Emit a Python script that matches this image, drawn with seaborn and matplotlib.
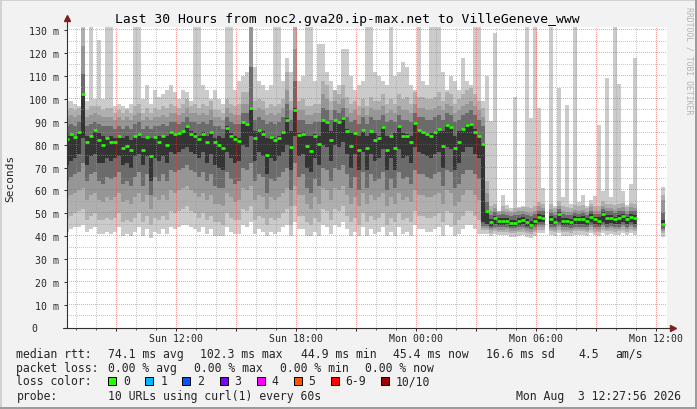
import numpy as np
import pandas as pd
import matplotlib
matplotlib.use("Agg")
import matplotlib.pyplot as plt
from matplotlib.patches import Rectangle
from matplotlib.lines import Line2D
from matplotlib.transforms import blended_transform_factory
import seaborn as sns

nan = np.nan

# time axis in hours since Sun 00:00, 12-minute buckets
axis_start = 6 + 32 / 60
axis_hours = 30
bucket_start = 6 + 26 / 60
bucket_hours = 0.2

# median rtt per bucket (ms)
median_rtt = [
    82.6, 84.7, 83.2, 85.7, 102.3, 81.4, 83.6, 86.3, 82.2, 79.7,
    82.8, 81.0, 81.0, 83.6, 78.4, 79.3, 77.5, 83.6, 84.7, 77.5,
    83.2, 74.9, 83.2, 81.0, 83.6, 79.7, 85.4, 84.7, 85.0, 85.8,
    88.0, 84.7, 83.6, 82.4, 84.9, 81.0, 85.7, 81.0, 80.0, 78.7,
    87.5, 83.6, 82.6, 81.7, 89.8, 89.2, 96.2, 83.1, 86.6, 84.8,
    75.7, 83.5, 82.2, 83.1, 85.7, 91.0, 79.1, 95.4, 84.4, 84.8,
    79.6, 77.1, 83.9, 80.4, 90.7, 90.1, 81.9, 90.7, 89.8, 91.8,
    85.8, 79.3, 85.0, 77.8, 86.3, 78.4, 85.8, 81.9, 83.1, 87.6,
    77.5, 83.6, 78.4, 88.0, 83.6, 83.9, 81.0, 89.4, 86.3, 85.4,
    84.5, 83.6, 85.4, 86.7, 79.3, 88.5, 87.6, 78.4, 81.0, 86.7,
    88.5, 88.9, 85.4, 83.6, 80.1,
    50.8, 46.0, 48.1, 46.6, 46.8, 46.8, 45.9, 45.9, 46.7, 47.1, 46.2, 44.9, 46.8, 48.6, 48.1,
    nan,
    47.6, 46.4, 49.8, 46.8, 46.8, 46.4, 47.7, 47.4, 47.7, 46.8, 48.6, 47.3, 46.8, 49.5, 48.1,
    48.1, 47.3, 48.1, 48.9, 47.3, 48.6, 48.1,
    nan, nan, nan, nan, nan, nan,
    45.4,
]

# smoke: innermost (core) band
core_lo = [
    71, 73, 74, 76, 83, 71, 75, 76, 72, 72,
    74, 73, 74, 75, 71, 72, 70, 75, 76, 71,
    75, 64, 74, 73, 75, 72, 77, 76, 77, 78,
    79, 77, 76, 74, 77, 72, 76, 71, 70, 69,
    77, 74, 72, 73, 80, 79, 84, 73, 77, 75,
    67, 74, 73, 75, 77, 80, 69, 84, 75, 76,
    70, 68, 74, 71, 80, 79, 73, 80, 79, 81,
    76, 70, 76, 69, 77, 69, 76, 73, 74, 78,
    69, 74, 69, 78, 74, 75, 72, 79, 77, 76,
    75, 74, 76, 77, 70, 79, 78, 69, 72, 77,
    79, 79, 76, 74, 46,
    45.5, 44.6, 45.4, 45.0, 45.0, 45.2, 44.6, 44.6, 45.0, 45.2, 44.6, 44.0, 45.0, 46.0, 46.0,
    nan,
    45.4, 45.0, 46.0, 45.0, 45.0, 44.8, 45.4, 45.4, 45.4, 45.0, 46.0, 45.2, 45.0, 46.0, 45.4,
    45.6, 45.2, 45.4, 46.0, 45.2, 46.0, 45.4,
    nan, nan, nan, nan, nan, nan,
    44.4,
]
core_hi = [
    84, 85, 84, 86, 102.8, 84, 84, 86.5, 85, 84,
    83, 84, 83, 84, 83, 84, 82, 84, 85, 83,
    83.5, 83, 83.5, 84, 84, 84, 86, 85, 85.5, 86,
    88.5, 86, 85, 84, 85.5, 84, 86, 83, 84, 83,
    88, 85, 84, 83, 90, 89.5, 96.5, 86, 87, 86,
    83, 84, 83, 84, 86, 91.5, 86, 96, 85, 85.5,
    84, 84, 84.5, 84, 91, 90.5, 86, 91, 90, 92.3,
    87, 85, 85.5, 84, 86.5, 84, 86, 85, 84, 88,
    84, 84, 85, 88.5, 85, 84.5, 84, 90, 86.5, 86,
    85, 85, 86, 87, 86, 89, 88, 84, 86, 87,
    89, 89.4, 87, 84, 80.6,
    51.6, 47.4, 49.0, 47.8, 48.0, 47.8, 47.0, 47.2, 48.0, 48.4, 47.4, 46.8, 48.0, 49.8, 49.4,
    nan,
    48.8, 47.8, 50.6, 48.0, 48.0, 47.6, 48.8, 48.4, 48.8, 47.8, 49.8, 48.4, 48.2, 50.4, 49.4,
    49.4, 48.6, 49.4, 49.8, 48.6, 49.8, 49.4,
    nan, nan, nan, nan, nan, nan,
    47.0,
]
# second band
band4_lo = [
    64, 66, 67, 68, 72, 64, 67, 68, 64, 63,
    66, 65, 66, 68, 63, 64, 62, 66, 68, 62,
    67, 58, 66, 64, 67, 64, 69, 68, 69, 70,
    71, 69, 68, 66, 68, 64, 67, 62, 61, 61,
    68, 65, 63, 64, 70, 69, 72, 64, 67, 66,
    59, 65, 64, 66, 68, 70, 60, 72, 66, 67,
    61, 59, 65, 62, 70, 69, 64, 70, 69, 71,
    67, 61, 66, 60, 68, 61, 67, 64, 65, 68,
    60, 65, 61, 68, 65, 66, 63, 69, 67, 67,
    66, 65, 67, 68, 62, 69, 68, 61, 63, 67,
    69, 69, 67, 65, 44.5,
    44.5, 43.6, 44.2, 43.8, 43.8, 44.0, 43.4, 43.4, 43.8, 44.0, 43.4, 43.0, 43.8, 44.8, 44.8,
    nan,
    44.2, 43.8, 44.8, 43.8, 43.8, 43.6, 44.2, 44.2, 44.2, 43.8, 44.8, 44.0, 43.8, 44.8, 44.2,
    44.4, 44.0, 44.2, 44.8, 44.0, 44.8, 44.2,
    nan, nan, nan, nan, nan, nan,
    43.2,
]
band4_hi = [
    88, 89, 88, 90, 111, 88, 89, 90, 89, 88,
    88, 88, 87, 88, 87, 88, 87, 89, 90, 87,
    88, 87, 88, 88, 89, 88, 90, 90, 89, 90,
    92, 90, 90, 89, 90, 89, 91, 88, 88, 87,
    92, 90, 89, 89, 94, 94, 114, 91, 92, 91,
    89, 90, 89, 90, 92, 98, 91, 108, 91, 91,
    89, 89, 90, 90, 96, 95, 91, 95, 94, 96,
    92, 90, 91, 89, 92, 89, 92, 91, 91, 93,
    90, 91, 90, 93, 91, 91, 90, 94, 92, 92,
    91, 91, 92, 93, 91, 94, 93, 90, 91, 93,
    94, 95, 93, 91, 88,
    55.0, 49.2, 50.4, 49.2, 49.6, 49.2, 48.8, 49.2, 49.4, 49.8, 49.2, 48.8, 49.6, 51.2, 50.8,
    nan,
    50.2, 49.2, 51.8, 49.6, 49.2, 49.2, 50.2, 49.8, 50.2, 49.2, 51.2, 49.8, 49.6, 51.8, 50.8,
    50.8, 50.2, 50.8, 51.2, 49.8, 51.2, 50.8,
    nan, nan, nan, nan, nan, nan,
    50.0,
]
# third band
band3_lo = [
    57, 58, 59, 60, 61, 56, 58, 59, 56, 55,
    57, 56, 57, 59, 55, 56, 54, 57, 59, 55,
    58, 52, 57, 56, 58, 56, 60, 59, 60, 61,
    62, 60, 59, 57, 59, 56, 58, 54, 54, 53,
    59, 57, 55, 56, 61, 60, 62, 56, 58, 57,
    52, 57, 56, 57, 59, 61, 53, 62, 58, 58,
    54, 52, 57, 54, 61, 60, 56, 61, 60, 62,
    58, 54, 57, 53, 59, 54, 58, 56, 57, 59,
    53, 57, 54, 59, 56, 57, 55, 60, 58, 58,
    57, 57, 58, 59, 54, 60, 59, 53, 55, 58,
    60, 60, 58, 56, 43.5,
    43.5, 42.6, 43.2, 42.8, 42.8, 43.0, 42.4, 42.4, 42.8, 43.0, 42.4, 42.0, 42.8, 43.8, 43.8,
    nan,
    43.2, 42.8, 43.8, 42.8, 42.8, 42.6, 43.2, 43.2, 43.2, 42.8, 43.8, 43.0, 42.8, 43.8, 43.2,
    43.4, 43.0, 43.2, 43.8, 43.0, 43.8, 43.2,
    nan, nan, nan, nan, nan, nan,
    42.2,
]
band3_hi = [
    92, 93, 92, 93, 123, 92, 93, 94, 93, 92,
    92, 92, 91, 92, 91, 92, 91, 93, 94, 91,
    92, 91, 92, 92, 93, 92, 94, 94, 93, 94,
    96, 94, 94, 93, 94, 93, 95, 92, 92, 91,
    96, 94, 93, 93, 98, 98, 135, 95, 96, 95,
    93, 94, 93, 94, 96, 104, 95, 122, 95, 95,
    93, 93, 94, 94, 102, 100, 95, 99, 98, 100,
    96, 94, 95, 93, 96, 93, 96, 95, 95, 97,
    94, 95, 94, 97, 95, 95, 94, 98, 96, 96,
    95, 95, 96, 97, 95, 98, 97, 94, 95, 97,
    98, 99, 97, 95, 92,
    59.0, 51.0, 52.2, 50.2, 51.2, 50.6, 50.2, 50.6, 50.8, 51.2, 50.6, 50.2, 51.2, 53.0, 52.2,
    nan,
    52.0, 50.6, 53.2, 51.2, 50.6, 50.6, 51.6, 51.2, 51.6, 50.6, 52.6, 51.2, 51.2, 53.2, 52.2,
    52.2, 51.6, 52.2, 52.8, 51.2, 52.8, 52.2,
    nan, nan, nan, nan, nan, nan,
    55.8,
]
# fourth band
band2_lo = [
    48, 49, 50, 51, 52, 47, 49, 50, 47, 47,
    48, 47, 48, 50, 46, 47, 46, 48, 50, 46,
    49, 45, 48, 47, 49, 47, 51, 50, 51, 52,
    53, 51, 50, 48, 50, 47, 49, 46, 46, 45,
    50, 48, 47, 47, 52, 51, 53, 47, 49, 48,
    45, 48, 47, 48, 50, 52, 45, 53, 49, 49,
    46, 45, 48, 46, 52, 51, 47, 52, 51, 53,
    49, 46, 48, 45, 50, 46, 49, 47, 48, 50,
    45, 48, 46, 50, 47, 48, 46, 51, 49, 49,
    48, 48, 49, 50, 46, 51, 50, 45, 47, 49,
    51, 51, 49, 47, 42.5,
    42.5, 41.6, 42.2, 41.8, 41.8, 42.0, 41.4, 41.4, 41.8, 42.0, 41.4, 41.0, 41.8, 42.8, 42.8,
    nan,
    42.2, 41.8, 42.8, 41.8, 41.8, 41.6, 42.2, 42.2, 42.2, 41.8, 42.8, 42.0, 41.8, 42.8, 42.2,
    42.4, 42.0, 42.2, 42.8, 42.0, 42.8, 42.2,
    nan, nan, nan, nan, nan, nan,
    41.2,
]
band2_hi = [
    95, 96, 95, 96, 131, 95, 97, 97, 97, 95,
    96, 96, 94, 95, 94, 95, 94, 97, 98, 94,
    96, 94, 96, 95, 97, 96, 98, 97, 96, 98,
    100, 97, 98, 96, 98, 97, 99, 95, 95, 94,
    100, 98, 97, 98, 103, 103, 135, 99, 100, 99,
    96, 98, 97, 98, 100, 112, 99, 135, 99, 100,
    97, 97, 98, 98, 108, 106, 99, 104, 102, 106,
    101, 98, 99, 97, 100, 97, 101, 99, 99, 102,
    98, 100, 98, 102, 100, 101, 98, 103, 101, 101,
    100, 100, 101, 103, 99, 103, 102, 98, 100, 102,
    104, 105, 102, 99, 96,
    64.0, 53.0, 54.0, 50.8, 53.0, 52.0, 51.2, 52.2, 52.2, 52.6, 52.6, 52.2, 53.0, 55.0, 54.0,
    nan,
    54.0, 52.2, 55.2, 53.0, 52.6, 52.2, 53.6, 53.2, 53.6, 52.2, 54.2, 53.0, 53.0, 55.2, 54.2,
    54.2, 53.6, 54.2, 54.6, 52.8, 54.6, 54.2,
    nan, nan, nan, nan, nan, nan,
    58.2,
]
# outermost band: min .. max rtt
rtt_min = [
    42, 43, 44, 44, 45, 42, 43, 44, 41, 41,
    42, 41, 42, 44, 40, 41, 40, 42, 44, 40,
    43, 39, 42, 41, 43, 41, 44, 43, 44, 45,
    45, 44, 43, 42, 44, 41, 43, 40, 40, 40,
    44, 42, 41, 41, 45, 44, 46, 41, 43, 42,
    40, 42, 41, 42, 44, 45, 40, 46, 43, 43,
    40, 40, 42, 40, 45, 44, 41, 45, 44, 46,
    43, 40, 42, 40, 44, 40, 43, 41, 42, 44,
    40, 42, 40, 44, 41, 42, 40, 45, 43, 43,
    42, 42, 43, 44, 40, 45, 44, 40, 41, 43,
    45, 45, 43, 41, 41,
    41.0, 40.2, 40.8, 40.4, 40.6, 40.6, 39.8, 39.8, 40.2, 40.6, 39.8, 39.4, 40.2, 41.2, 41.2,
    nan,
    40.6, 40.2, 41.2, 40.2, 40.2, 40.0, 40.6, 40.6, 40.6, 40.2, 41.2, 40.6, 40.2, 41.2, 40.6,
    41.0, 40.6, 40.6, 41.2, 40.6, 41.2, 40.6,
    nan, nan, nan, nan, nan, nan,
    39.8,
]
rtt_max = [
    99, 99, 98, 97, 135, 99, 135, 100, 126, 100,
    135, 135, 97, 98, 97, 96, 98, 135, 135, 100,
    106, 98, 104, 101, 102, 104, 106, 103, 100, 104,
    103, 99, 135, 135, 106, 104, 100, 104, 100, 98,
    135, 135, 104, 108, 110, 112, 135, 114, 108, 106,
    104, 106, 135, 135, 108, 118, 112, 135, 108, 110,
    135, 135, 108, 124, 124, 112, 108, 104, 106, 122,
    122, 110, 104, 106, 108, 135, 135, 112, 110, 108,
    106, 135, 110, 112, 116, 114, 106, 104, 135, 108,
    106, 135, 135, 135, 112, 104, 110, 108, 104, 118,
    108, 106, 135, 135, 99,
    110, 90.4, 129, 51.2, 58.0, 53.6, 52.2, 101, 52.6, 53.2, 135, 91.8, 135, 96, 61,
    nan,
    135, 53.2, 104.8, 57.0, 97.2, 54.0, 135, 55.0, 58.0, 53.0, 55.6, 57.4, 88.7, 59.7, 109,
    57.2, 135, 106.5, 59.7, 53.6, 62.7, 118,
    nan, nan, nan, nan, nan, nan,
    61.5,
]

smoke_colors = ["#cbcbcb", "#afafaf", "#969696", "#6b6b6b", "#343434"]
median_color = "#26ff00"

x_tick_hours = [9, 12, 15, 18, 21, 24, 27, 30, 33, 36]
x_tick_labels = ["", "Sun 12:00", "", "Sun 18:00", "", "Mon 00:00", "", "Mon 06:00", "", "Mon 12:00"]
y_ticks = [10, 20, 30, 40, 50, 60, 70, 80, 90, 100, 110, 120, 130]
y_tick_labels = [f"{v} m" for v in y_ticks]

title = "Last 30 Hours from noc2.gva20.ip-max.net to VilleGeneve_www"
rtt_legend = [("median rtt:", 16.4), ("74.1 ms avg", 108), ("102.3 ms max", 200),
              ("44.9 ms min", 301), ("45.4 ms now", 393), ("16.6 ms sd", 486),
              ("4.5", 578), ("am/s", 615)]
loss_legend = [("packet loss:", 16.4), ("0.00 % avg", 108), ("0.00 % max", 194),
               ("0.00 % min", 280), ("0.00 % now", 365)]
loss_labels = ["0", "1", "2", "3", "4", "5", "6-9", "10/10"]
loss_colors = ["#26ff00", "#00b8ff", "#0059ff", "#7e00ff", "#ff00ff", "#ff5500", "#ff0000", "#a10000"]
loss_box_x = [108.3, 145.3, 182.3, 219.5, 256.5, 293.5, 330.5, 381.0]
loss_text_x = [123.4, 160.4, 197.4, 234.4, 271.4, 308.4, 345.5, 396.0]
probe_text = "10 URLs using curl(1) every 60s"
date_text = "Mon Aug  3 12:27:56 2026"

df = pd.DataFrame({
    "median": median_rtt, "core_lo": core_lo, "core_hi": core_hi,
    "b4_lo": band4_lo, "b4_hi": band4_hi, "b3_lo": band3_lo, "b3_hi": band3_hi,
    "b2_lo": band2_lo, "b2_hi": band2_hi, "min": rtt_min, "max": rtt_max,
})
df["t"] = bucket_start + bucket_hours * np.arange(len(df))
df = df.dropna()

# ---- styling
sns.set_theme(style="white", rc={"axes.facecolor": "white"})
plt.rcParams["font.family"] = ["DejaVu Sans Mono", "DejaVu Sans"]

W, H = 697, 410
PX_PER_HOUR = 20
PX_PER_MS = 2.286
fig = plt.figure(figsize=(W / 100, H / 100), dpi=100)
fig.patch.set_facecolor("#f2f2f2")
ax = fig.add_axes([66.7 / W, (H - 328.6) / H, 600 / W, 301 / H])
ax.set_facecolor("white")
ax.set_xlim(axis_start, axis_start + axis_hours)
ax.set_ylim(0, 301 / PX_PER_MS)

# smoke bands, outer to inner
bands = [("min", "max"), ("b2_lo", "b2_hi"), ("b3_lo", "b3_hi"), ("b4_lo", "b4_hi"), ("core_lo", "core_hi")]
for k, (lo, hi) in enumerate(bands):
    ax.bar(df["t"], df[hi] - df[lo], bottom=df[lo], width=bucket_hours, align="edge",
           color=smoke_colors[k], linewidth=0, antialiased=False, zorder=1 + k)

# dotted grid drawn as single pixels every 2 px, on top of the smoke
gray_dot = "#9a9a9a"
red_dot = "#ff3030"
dot_x = axis_start + np.arange(0.5, 600, 2) / PX_PER_HOUR
dot_y = np.arange(0.5, 301, 2) / PX_PER_MS
for v in range(5, 131, 5):
    ax.plot(dot_x, np.full(dot_x.size, v), ls="none", marker=",",
            color=gray_dot if v % 10 else red_dot, alpha=0.55 if v % 10 else 0.45, zorder=6)
for h in range(7, 37):
    ax.plot(np.full(dot_y.size, h), dot_y, ls="none", marker=",",
            color=gray_dot if h % 3 else red_dot, alpha=0.55 if h % 3 else 0.45, zorder=6)

# median marks
ax.hlines(df["median"], df["t"], df["t"] + bucket_hours, colors=median_color,
          linewidth=1.9, capstyle="butt", zorder=8)

# axes and ticks
for s in ax.spines.values():
    s.set_visible(False)
ax.grid(False)
ax.set_xticks(x_tick_hours)
ax.set_xticklabels(x_tick_labels)
ax.set_xticks(range(7, 37), minor=True)
ax.set_yticks(y_ticks)
ax.set_yticklabels(y_tick_labels)
ax.tick_params(axis="both", which="major", labelsize=7.1, color="#303030", width=0.72,
               length=2.5, direction="out", pad=1.6, left=True, bottom=True)
ax.tick_params(axis="x", which="minor", color="#606060", width=0.72, length=1.5, bottom=True)
ax.tick_params(axis="y", pad=3.2)

trans = blended_transform_factory(ax.transAxes, ax.transData)
ax.text((34.5 - 66.7) / 600, 0, "0", transform=trans, ha="center", va="center", fontsize=7.1)

axis_col = "#303030"
arrow_col = "#7f1f1f"
ax.plot([0, 0], [0, 1.02], transform=ax.transAxes, color=axis_col, lw=0.8, clip_on=False, zorder=9)
ax.plot([-0.007, 1.008], [0, 0], transform=ax.transAxes, color=axis_col, lw=0.8, clip_on=False, zorder=9)
ax.plot([0], [1.027], marker="^", markersize=4.2, color=arrow_col, transform=ax.transAxes, clip_on=False, zorder=10)
ax.plot([1.011], [0], marker=">", markersize=4.2, color=arrow_col, transform=ax.transAxes, clip_on=False, zorder=10)


def fx(px):
    return px / W


def fy(py):
    return 1 - py / H


fig.text(fx(347.7), fy(19), title, ha="center", va="center", fontsize=9.4, color="black")
fig.text(fx(10), fy(178), "Seconds", rotation=90, ha="center", va="center", fontsize=8.0)
fig.text(fx(689), fy(61), "RRDTOOL / TOBI OETIKER", rotation=270, ha="center", va="center",
         fontsize=5.9, color="#b4b4b4")

leg_size = 8.3
for s, x in rtt_legend:
    fig.text(fx(x), fy(354.3), s, ha="left", va="center", fontsize=leg_size)
for s, x in loss_legend:
    fig.text(fx(x), fy(368.7), s, ha="left", va="center", fontsize=leg_size)
fig.text(fx(16.4), fy(382), "loss color:", ha="left", va="center", fontsize=leg_size)
for lab, col, bx, tx in zip(loss_labels, loss_colors, loss_box_x, loss_text_x):
    fig.add_artist(Rectangle((fx(bx), fy(386.3)), 8 / W, 8.6 / H, facecolor=col,
                             edgecolor="black", linewidth=0.72, transform=fig.transFigure))
    fig.text(fx(tx), fy(382), lab, ha="left", va="center", fontsize=leg_size)
fig.text(fx(16.4), fy(396.7), "probe:", ha="left", va="center", fontsize=leg_size)
fig.text(fx(108), fy(396.7), probe_text, ha="left", va="center", fontsize=leg_size)
fig.text(fx(681.5), fy(396.7), date_text, ha="right", va="center", fontsize=leg_size)

# shaded frame
fig.add_artist(Line2D([0, 1], [fy(0.7), fy(0.7)], color="#d2d2d2", lw=1.4, transform=fig.transFigure))
fig.add_artist(Line2D([fx(0.7), fx(0.7)], [0, 1], color="#d2d2d2", lw=1.4, transform=fig.transFigure))
fig.add_artist(Line2D([0, 1], [fy(409.3), fy(409.3)], color="#9a9a9a", lw=1.4, transform=fig.transFigure))
fig.add_artist(Line2D([fx(696.3), fx(696.3)], [0, 1], color="#9a9a9a", lw=1.4, transform=fig.transFigure))

fig.savefig("out.png", dpi=100, facecolor=fig.get_facecolor())
